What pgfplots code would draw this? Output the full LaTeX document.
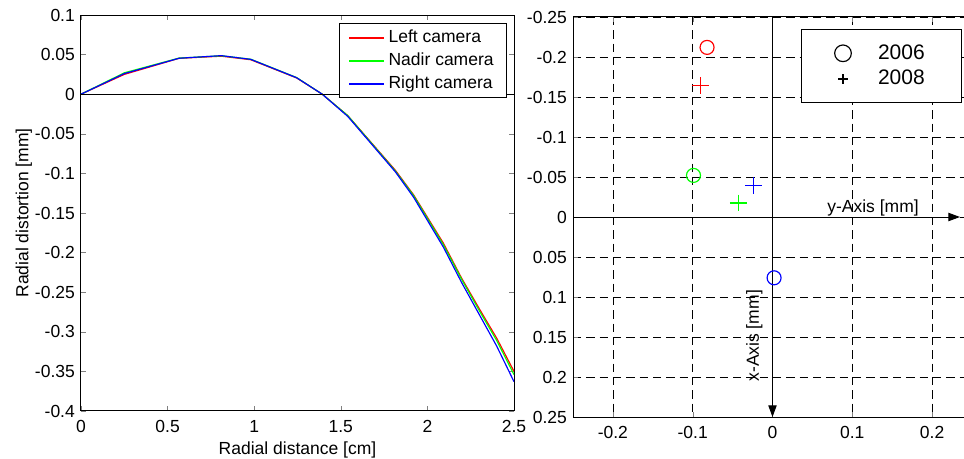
\documentclass[border=0pt]{standalone}
\usepackage{fontspec}
\setmainfont{Liberation Sans}
\usepackage{pgfplots}
\pgfplotsset{compat=1.18}
\usetikzlibrary{arrows.meta}

\pgfplotsset{
  every axis/.append style={
    scale only axis,
    tick align=inside,
    major tick length=3pt,
    /pgf/number format/assume math mode=true,
    /pgf/number format/fixed,
    /pgf/number format/precision=2,
    axis line style={line width=0.6pt},
    legend cell align=left,
    xticklabel style={yshift=-1.8pt},
  },
}

\begin{document}
\fontsize{10.5}{12.6}\selectfont
\begin{tikzpicture}

% left panel: radial distortion curves
\begin{axis}[
  name=L,
  width=259.8pt, height=237.6pt,
  xmin=0, xmax=2.5, ymin=-0.4, ymax=0.1,
  xtick={0,0.5,...,2.5},
  ytick={-0.4,-0.35,...,0.1},
  xlabel={Radial distance [cm]},
  ylabel={Radial distortion [mm]},
  xlabel style={yshift=1.5pt},
  ylabel style={yshift=-5.4pt},
  legend style={at={(0.983,0.98)}, anchor=north east, draw=black, line width=0.6pt,
    row sep=0.6pt, inner xsep=5.5pt, inner ysep=2pt},
  legend image code/.code={\draw[#1, line width=1pt] (0pt,0pt) -- (21pt,0pt);},
]
\addplot[red, line width=0.7pt] coordinates {
  (0,0) (0.25,0.025) (0.566,0.0453) (0.81,0.048) (0.98,0.0435) (1.245,0.0205)
  (1.393,0) (1.54,-0.027) (1.815,-0.096) (1.92,-0.127) (2.092,-0.188)
  (2.198,-0.2325) (2.304,-0.2725) (2.40,-0.308) (2.5,-0.350)};
\addlegendentry{Left camera\hspace{6pt}}
\addplot[green, line width=0.7pt] coordinates {
  (0,0) (0.25,0.027) (0.566,0.0456) (0.81,0.0485) (0.98,0.0442) (1.245,0.021)
  (1.393,0) (1.54,-0.027) (1.815,-0.097) (1.92,-0.128) (2.092,-0.190)
  (2.198,-0.234) (2.304,-0.275) (2.40,-0.311) (2.5,-0.354)};
\addlegendentry{Nadir camera\hspace{6pt}}
\addplot[blue, line width=0.7pt] coordinates {
  (0,0) (0.25,0.026) (0.566,0.0454) (0.81,0.0487) (0.98,0.044) (1.245,0.0208)
  (1.393,0) (1.54,-0.028) (1.815,-0.098) (1.92,-0.130) (2.092,-0.193)
  (2.198,-0.238) (2.304,-0.280) (2.40,-0.318) (2.5,-0.363)};
\addlegendentry{Right camera\hspace{6pt}}
\addplot[black, line width=0.6pt, forget plot] coordinates {(0,0) (2.5,0)};
\end{axis}

% right panel: principal point offsets
\begin{axis}[
  name=R,
  at={(295.2pt,-3.6pt)}, anchor=south west,
  width=234.6pt, height=240pt,
  xmin=-0.25, xmax=0.24, ymin=-0.25, ymax=0.25,
  y dir=reverse,
  axis x line=box, axis y line*=left,
  xtick={-0.2,-0.1,...,0.2},
  ytick={-0.25,-0.2,...,0.25},
  grid=major,
  grid style={black, dash pattern=on 5pt off 3pt, line width=0.4pt},
  legend style={at={(0.995,0.97)}, anchor=north east, draw=black, line width=0.8pt,
    row sep=1pt, inner xsep=20pt, inner ysep=7pt,
    font=\fontsize{12.6}{15}\selectfont},
]
\addplot[black, only marks, mark=o, mark size=5pt, line width=0.7pt] coordinates {(1,1)};
\addlegendentry{\hspace{14pt}2006\hspace{1pt}}
\addplot[black, only marks, mark=+, mark size=2.8pt, line width=1pt] coordinates {(1,1)};
\addlegendentry{\hspace{14pt}2008\hspace{1pt}}

\addplot[black, line width=0.6pt, -{Triangle[length=7pt,width=5pt]}, forget plot]
  coordinates {(-0.25,0) (0.235,0)};
\addplot[black, line width=0.6pt, -{Triangle[length=7pt,width=5pt]}, forget plot]
  coordinates {(0,-0.25) (0,0.25)};

\addplot[red, only marks, mark=o, mark size=4.2pt, line width=0.7pt, forget plot]
  coordinates {(-0.082,-0.212)};
\addplot[green, only marks, mark=o, mark size=4.2pt, line width=0.7pt, forget plot]
  coordinates {(-0.099,-0.052)};
\addplot[blue, only marks, mark=o, mark size=4.2pt, line width=0.7pt, forget plot]
  coordinates {(0.002,0.076)};
\addplot[red, only marks, mark=+, mark size=5pt, line width=0.8pt, forget plot]
  coordinates {(-0.090,-0.164)};
\addplot[green, only marks, mark=+, mark size=5pt, line width=0.8pt, forget plot]
  coordinates {(-0.043,-0.0175)};
\addplot[blue, only marks, mark=+, mark size=5pt, line width=0.8pt, forget plot]
  coordinates {(-0.024,-0.039)};

\node[anchor=base, inner sep=0pt] at (axis cs:0.126,-0.006) {y-Axis [mm]};
\node[rotate=90, anchor=base, inner sep=0pt] at (axis cs:-0.017,0.1485) {x-Axis [mm]};
\end{axis}

\pgfresetboundingbox
\path ([xshift=-48.6pt,yshift=-28.8pt]L.south west) rectangle ([yshift=9pt]L.north west -| R.east);
\end{tikzpicture}
\end{document}
